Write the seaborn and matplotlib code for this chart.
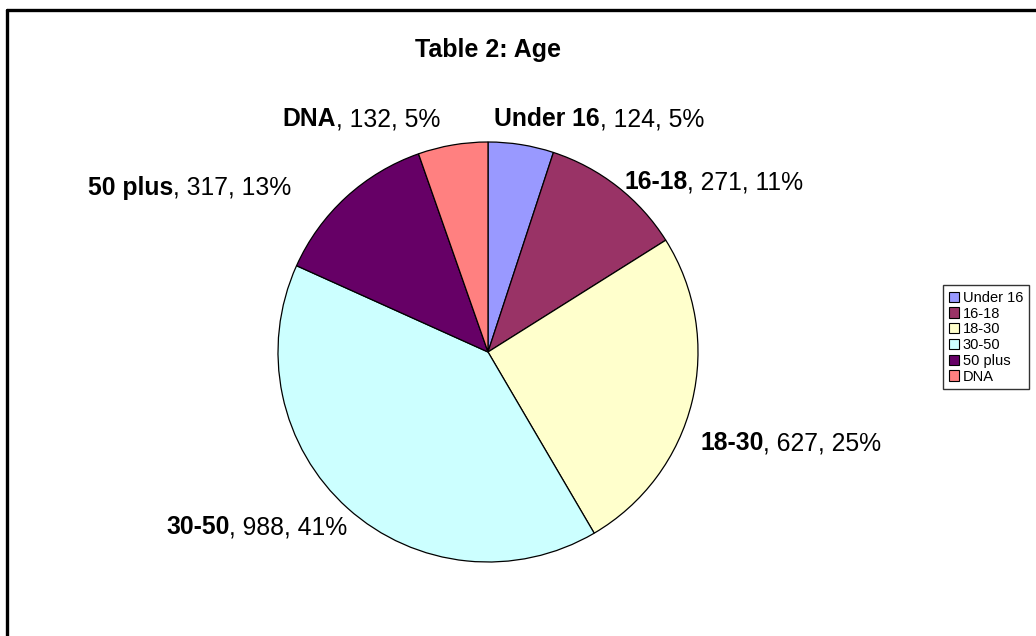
import matplotlib
matplotlib.use("Agg")
import matplotlib.pyplot as plt
import seaborn as sns
from matplotlib.patches import Patch
from matplotlib.lines import Line2D

sns.set_theme(style="white")
plt.rcParams['font.family'] = ['Liberation Sans', 'DejaVu Sans']
plt.rcParams['text.color'] = 'black'

# ---- data ----
categories = ["Under 16", "16-18", "18-30", "30-50", "50 plus", "DNA"]
counts = [124, 271, 627, 988, 317, 132]
percents = ["5%", "11%", "25%", "41%", "13%", "5%"]
colors = ["#9999FF", "#993366", "#FFFFCC", "#CCFFFF", "#660066", "#FF8080"]
title = "Table 2: Age"

# ---- layout (pixels) ----
W, H = 1036, 636
fig = plt.figure(figsize=(W / 100, H / 100), dpi=100)
fig.patch.set_facecolor("white")

cx, cy, r = 488, 352, 210
ax = fig.add_axes([(cx - r) / W, (H - cy - r) / H, 2 * r / W, 2 * r / H])
ax.pie(counts, colors=colors, startangle=90, counterclock=False, radius=1,
       wedgeprops=dict(edgecolor="black", linewidth=0.9))
ax.set_xlim(-1, 1)
ax.set_ylim(-1, 1)
ax.set_aspect("equal")
ax.axis("off")

# title
fig.text(cx / W, 1 - 50 / H, title, ha="center", va="center",
         fontsize=18, fontweight="bold", color="black")

# data labels: left x, center y in pixels
label_pos = [(494, 119), (624, 182), (700, 443), (166, 527), (88, 188), (282, 119)]
for cat, n, p, (lx, ly) in zip(categories, counts, percents, label_pos):
    t1 = fig.text(lx / W, 1 - ly / H, cat, ha="left", va="center",
                  fontsize=17.8, fontweight="bold", color="black")
    ax.annotate(f", {n}, {p}", xy=(1, 0.5), xycoords=t1, ha="left", va="center",
                fontsize=17.8, color="black", annotation_clip=False)

# figure border (top and left visible)
fig.add_artist(Line2D([7 / W, 1.0], [1 - 10 / H, 1 - 10 / H], transform=fig.transFigure,
                      color="black", linewidth=2.4))
fig.add_artist(Line2D([7 / W, 7 / W], [1 - 10 / H, 0.0], transform=fig.transFigure,
                      color="black", linewidth=2.4))

# legend
handles = [Patch(facecolor=c, edgecolor="black", linewidth=0.8, label=cat)
           for c, cat in zip(colors, categories)]
leg = fig.legend(handles=handles, loc="upper left",
                 bbox_to_anchor=(943 / W, 1 - 285 / H), fontsize=10.5,
                 frameon=True, fancybox=False, handlelength=0.7, handleheight=0.7,
                 handletextpad=0.25, labelspacing=0.12, borderpad=0.4,
                 borderaxespad=0.0)
leg.get_frame().set_edgecolor("black")
leg.get_frame().set_linewidth(1.0)
for txt in leg.get_texts():
    txt.set_color("black")

fig.savefig("out.png", dpi=100, facecolor="white")
